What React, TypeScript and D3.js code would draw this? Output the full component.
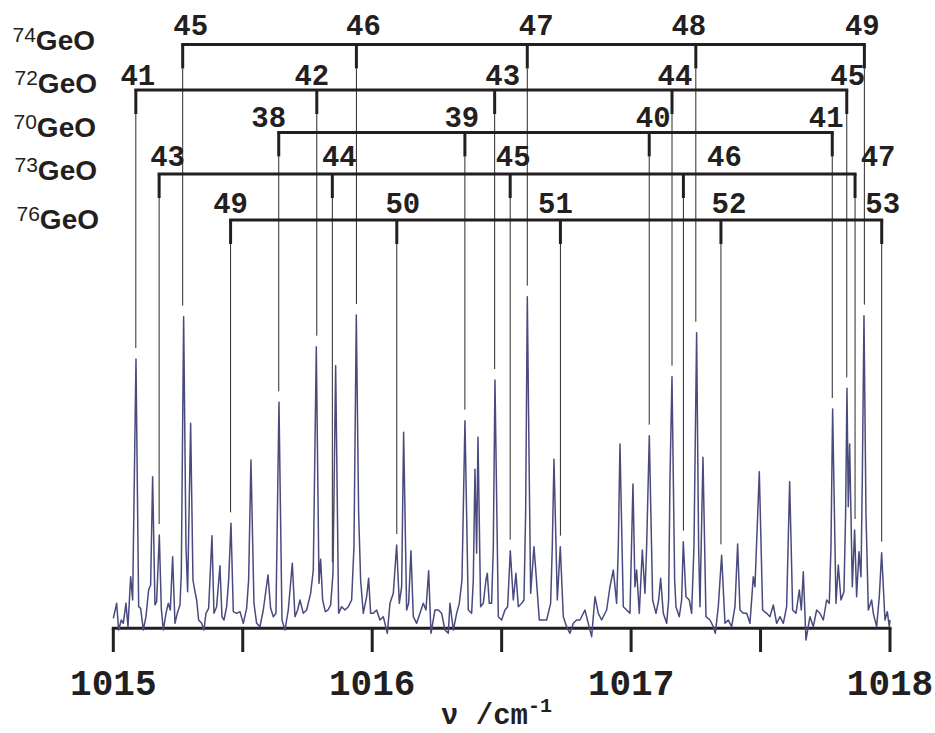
import React from "react";
import * as d3 from "d3";

// ---- data ----
const isotopologues = ["74", "72", "70", "73", "76"];
const ladderJ: number[][] = [
  [45, 46, 47, 48, 49],
  [41, 42, 43, 44, 45],
  [38, 39, 40, 41],
  [43, 44, 45, 46, 47],
  [49, 50, 51, 52, 53],
];
const ladderNu: number[][] = [
  [1015.268, 1015.939, 1016.599, 1017.25, 1017.901],
  [1015.087, 1015.786, 1016.473, 1017.158, 1017.833],
  [1015.639, 1016.358, 1017.07, 1017.777],
  [1015.177, 1015.846, 1016.533, 1017.202, 1017.865],
  [1015.453, 1016.095, 1016.727, 1017.347, 1017.968],
];
const xTicks = [1015, 1015.5, 1016, 1016.5, 1017, 1017.5, 1018];
const xTickLabels = ["1015", "", "1016", "", "1017", "", "1018"];

// spectrum: [wavenumber / cm-1, intensity (a.u.)]
const spectrum: [number, number][] = [
[1015.0000,6.5],[1015.0129,11],[1015.0206,3],[1015.0309,6],[1015.0386,5],[1015.0489,11],[1015.0567,4],[1015.0670,19],[1015.0747,12],[1015.0876,84.3],[1015.0979,10],[1015.1056,9.5],[1015.1159,3],[1015.1262,7],[1015.1365,15],[1015.1442,16.5],[1015.1519,49],[1015.1609,10.5],[1015.1674,11.5],[1015.1777,31.5],[1015.1854,9.5],[1015.1931,3],[1015.2034,8],[1015.2124,11],[1015.2202,9],[1015.2292,25],[1015.2382,5],[1015.2472,8],[1015.2575,10.5],[1015.2627,20],[1015.2717,97],[1015.2807,28],[1015.2871,14.5],[1015.2987,65],[1015.3077,18],[1015.3142,15],[1015.3219,12],[1015.3296,6],[1015.3412,5],[1015.3502,3],[1015.3579,8],[1015.3682,9.5],[1015.3811,31.3],[1015.3888,8],[1015.3991,10],[1015.4120,22.3],[1015.4197,7],[1015.4275,6],[1015.4378,10],[1015.4455,18],[1015.4545,35],[1015.4635,8.5],[1015.4764,8],[1015.4893,8.5],[1015.5021,5],[1015.5150,9.5],[1015.5227,18],[1015.5317,54],[1015.5433,11],[1015.5536,5],[1015.5665,4],[1015.5794,9],[1015.5974,19.5],[1015.6077,9.5],[1015.6180,7],[1015.6283,8],[1015.6399,71.3],[1015.6515,6],[1015.6631,3],[1015.6759,9],[1015.6914,23],[1015.7017,7],[1015.7120,9],[1015.7210,12],[1015.7339,8],[1015.7468,9],[1015.7622,14],[1015.7725,21],[1015.7841,88],[1015.7944,17],[1015.8008,24.2],[1015.8086,12],[1015.8189,8.5],[1015.8292,9],[1015.8395,10.5],[1015.8485,20],[1015.8588,82.3],[1015.8704,8],[1015.8819,10],[1015.8948,9],[1015.9077,10],[1015.9206,12],[1015.9296,28],[1015.9386,97.5],[1015.9476,38],[1015.9553,18],[1015.9656,8],[1015.9785,13],[1015.9862,18.5],[1015.9940,8],[1016.0043,8],[1016.0171,9],[1016.0300,6],[1016.0429,7],[1016.0583,2],[1016.0686,11],[1016.0815,14],[1016.0944,28.5],
[1016.1047,11],[1016.1137,16],[1016.1214,62.3],[1016.1330,9],[1016.1407,11],[1016.1497,26.8],[1016.1588,7],[1016.1716,5],[1016.1845,8],[1016.1974,11],[1016.2077,9],[1016.2180,20.8],[1016.2270,2],[1016.2424,9],[1016.2553,9],[1016.2682,8],[1016.2811,3],[1016.2939,2],[1016.3004,11],[1016.3133,3],[1016.3261,8],[1016.3364,11],[1016.3467,18],[1016.3583,65.8],[1016.3712,9],[1016.3841,8],[1016.3905,18],[1016.3969,51.2],[1016.4034,26],[1016.4085,60.8],[1016.4188,10],[1016.4291,11],[1016.4394,18],[1016.4446,20],[1016.4523,11],[1016.4613,11],[1016.4678,28],[1016.4742,78],[1016.4871,7],[1016.4999,6],[1016.5128,9],[1016.5231,10],[1016.5334,26.8],[1016.5450,12],[1016.5553,20],[1016.5643,10],[1016.5772,11],[1016.5862,12],[1016.5926,38],[1016.5991,103],[1016.6068,48],[1016.6120,14],[1016.6248,28],[1016.6326,20],[1016.6454,6],[1016.6609,6],[1016.6738,6],[1016.6892,11],[1016.6956,28],[1016.7021,54.2],[1016.7150,12],[1016.7265,28],[1016.7381,7],[1016.7510,4],[1016.7639,2],[1016.7768,5],[1016.7896,6],[1016.8025,6],[1016.8218,9],[1016.8347,5],[1016.8476,1],[1016.8605,13],[1016.8733,8],[1016.8862,6],[1016.9055,9],[1016.9184,16],[1016.9313,21],[1016.9441,11],[1016.9506,28],[1016.9570,58.8],[1016.9699,10],[1016.9828,9],[1016.9956,8],[1017.0072,46.8],[1017.0149,16],[1017.0214,21],[1017.0317,8],[1017.0433,27],[1017.0536,14],[1017.0600,28],[1017.0703,61.3],[1017.0832,12],[1017.0961,8],[1017.1064,12],[1017.1141,18.5],[1017.1244,8],[1017.1373,5],[1017.1450,12],[1017.1501,48],[1017.1579,79],[1017.1682,18],[1017.1733,10],[1017.1862,7],
[1017.1952,12],[1017.2016,29.5],[1017.2119,13],[1017.2248,12],[1017.2338,8],[1017.2428,28],[1017.2531,92.2],[1017.2608,28],[1017.2660,10],[1017.2776,54.8],[1017.2892,7],[1017.3046,6],[1017.3175,4],[1017.3252,2],[1017.3368,10],[1017.3497,25.4],[1017.3626,5],[1017.3754,6],[1017.3883,4],[1017.4012,10],[1017.4115,28.8],[1017.4205,9],[1017.4334,8],[1017.4463,8],[1017.4591,5],[1017.4720,19],[1017.4784,16],[1017.4952,50.5],[1017.5080,9],[1017.5235,8],[1017.5364,7],[1017.5493,10.5],[1017.5621,5],[1017.5750,7],[1017.5879,5],[1017.6008,10],[1017.6124,47.5],[1017.6240,9],[1017.6369,8],[1017.6497,15],[1017.6574,9],[1017.6651,20.5],[1017.6754,0],[1017.6909,7],[1017.7038,4],[1017.7166,9],[1017.7295,8],[1017.7424,6],[1017.7553,12],[1017.7656,11],[1017.7720,28],[1017.7784,69.3],[1017.7913,11],[1017.8003,22.5],[1017.8106,12],[1017.8222,14.5],[1017.8286,38],[1017.8338,75.5],[1017.8389,40],[1017.8441,58.8],[1017.8544,16],[1017.8634,33],[1017.8711,13],[1017.8801,26.5],[1017.8879,19],[1017.8930,48],[1017.8995,97.3],[1017.9072,38],[1017.9162,9],[1017.9291,12],[1017.9355,8],[1017.9484,4],[1017.9587,13],[1017.9677,26.2],[1017.9806,6],[1017.9896,8.5],[1017.9973,4],[1018.0000,6]
];

// ---- layout ----
const W = 935;
const H = 733;
const rowLineY = [44.5, 90, 132.5, 174, 220];
const rowNumBaseline = [35, 85, 127, 166, 213];
const rowNameBaseline = [50, 93, 137, 180, 229];
const rowNameRight = [95, 97, 96, 97, 99];
const labelDx: number[][] = [
  [8, 7, 9, -7, -2],
  [2, -5, 8, 3, 1],
  [-10, -3, 4, -6],
  [8.5, 7, 3, 41, 23],
  [0, 6, -5, 8, 1],
];
const TICK_LEN = 24;
const AXIS_Y = 628.3;
const INK = "#231f20";
const TRACE = "#4a4a7e";
const MONO = "'Liberation Mono', 'DejaVu Sans Mono', monospace";
const SANS = "'Liberation Sans', Arial, sans-serif";

export default function App() {
  const x = d3.scaleLinear().domain([1015, 1018]).range([113.3, 890]);
  const y = d3.scaleLinear().domain([0, 105]).range([640, 290]);

  const line = d3
    .line<[number, number]>()
    .x((d) => x(d[0]))
    .y((d) => y(d[1]));

  const peakAt = (nu: number) => {
    const near = spectrum.filter((p) => Math.abs(p[0] - nu) <= 0.006);
    if (near.length) return d3.max(near, (p) => p[1]) as number;
    const i = d3.bisector((p: [number, number]) => p[0]).left(spectrum, nu);
    return spectrum[Math.min(i, spectrum.length - 1)][1];
  };

  return (
    <svg
      width={W}
      height={H}
      style={{ position: "absolute", left: 0, top: 0, background: "#fff" }}
    >
      {/* ladders */}
      {isotopologues.map((iso, r) => {
        const xs = ladderNu[r].map((v) => x(v));
        const ly = rowLineY[r];
        return (
          <g key={iso}>
            <text
              x={rowNameRight[r]}
              y={rowNameBaseline[r]}
              textAnchor="end"
              fill={INK}
              fontFamily={SANS}
            >
              <tspan fontSize={21} dy={-8}>
                {iso}
              </tspan>
              <tspan fontSize={28} fontWeight="bold" dy={8}>
                GeO
              </tspan>
            </text>
            {/* thin lines to peaks */}
            {ladderNu[r].map((v, i) => (
              <line
                key={"t" + i}
                x1={xs[i]}
                x2={xs[i]}
                y1={ly + TICK_LEN}
                y2={y(peakAt(v)) - 11}
                stroke="#2a2a2a"
                strokeWidth={1}
              />
            ))}
            <line
              x1={xs[0] - 1.5}
              x2={xs[xs.length - 1] + 1.5}
              y1={ly}
              y2={ly}
              stroke={INK}
              strokeWidth={3}
            />
            {xs.map((px, i) => (
              <line
                key={"k" + i}
                x1={px}
                x2={px}
                y1={ly}
                y2={ly + TICK_LEN}
                stroke={INK}
                strokeWidth={3}
              />
            ))}
            {ladderJ[r].map((j, i) => (
              <text
                key={"l" + i}
                x={xs[i] + labelDx[r][i]}
                y={rowNumBaseline[r]}
                textAnchor="middle"
                fontFamily={MONO}
                fontWeight="bold"
                fontSize={29}
                fill={INK}
              >
                {j}
              </text>
            ))}
          </g>
        );
      })}

      {/* axis */}
      <line
        x1={x(1015) - 1.5}
        x2={x(1018) + 1.5}
        y1={AXIS_Y}
        y2={AXIS_Y}
        stroke={INK}
        strokeWidth={3}
      />
      {xTicks.map((t, i) => (
        <g key={t}>
          <line
            x1={x(t)}
            x2={x(t)}
            y1={AXIS_Y}
            y2={652}
            stroke={INK}
            strokeWidth={3}
          />
          {xTickLabels[i] && (
            <text
              x={x(t)}
              y={695}
              textAnchor="middle"
              fontFamily={MONO}
              fontWeight="bold"
              fontSize={36}
              fill={INK}
            >
              {xTickLabels[i]}
            </text>
          )}
        </g>
      ))}
      <text
        x={441}
        y={724}
        fontFamily={MONO}
        fontWeight="bold"
        fontSize={29}
        fill={INK}
      >
        ν /cm
        <tspan fontSize={20} dy={-12}>
          -1
        </tspan>
      </text>

      {/* spectrum */}
      <path
        d={line(spectrum) || ""}
        fill="none"
        stroke={TRACE}
        strokeWidth={1.5}
        strokeLinejoin="round"
      />
    </svg>
  );
}
